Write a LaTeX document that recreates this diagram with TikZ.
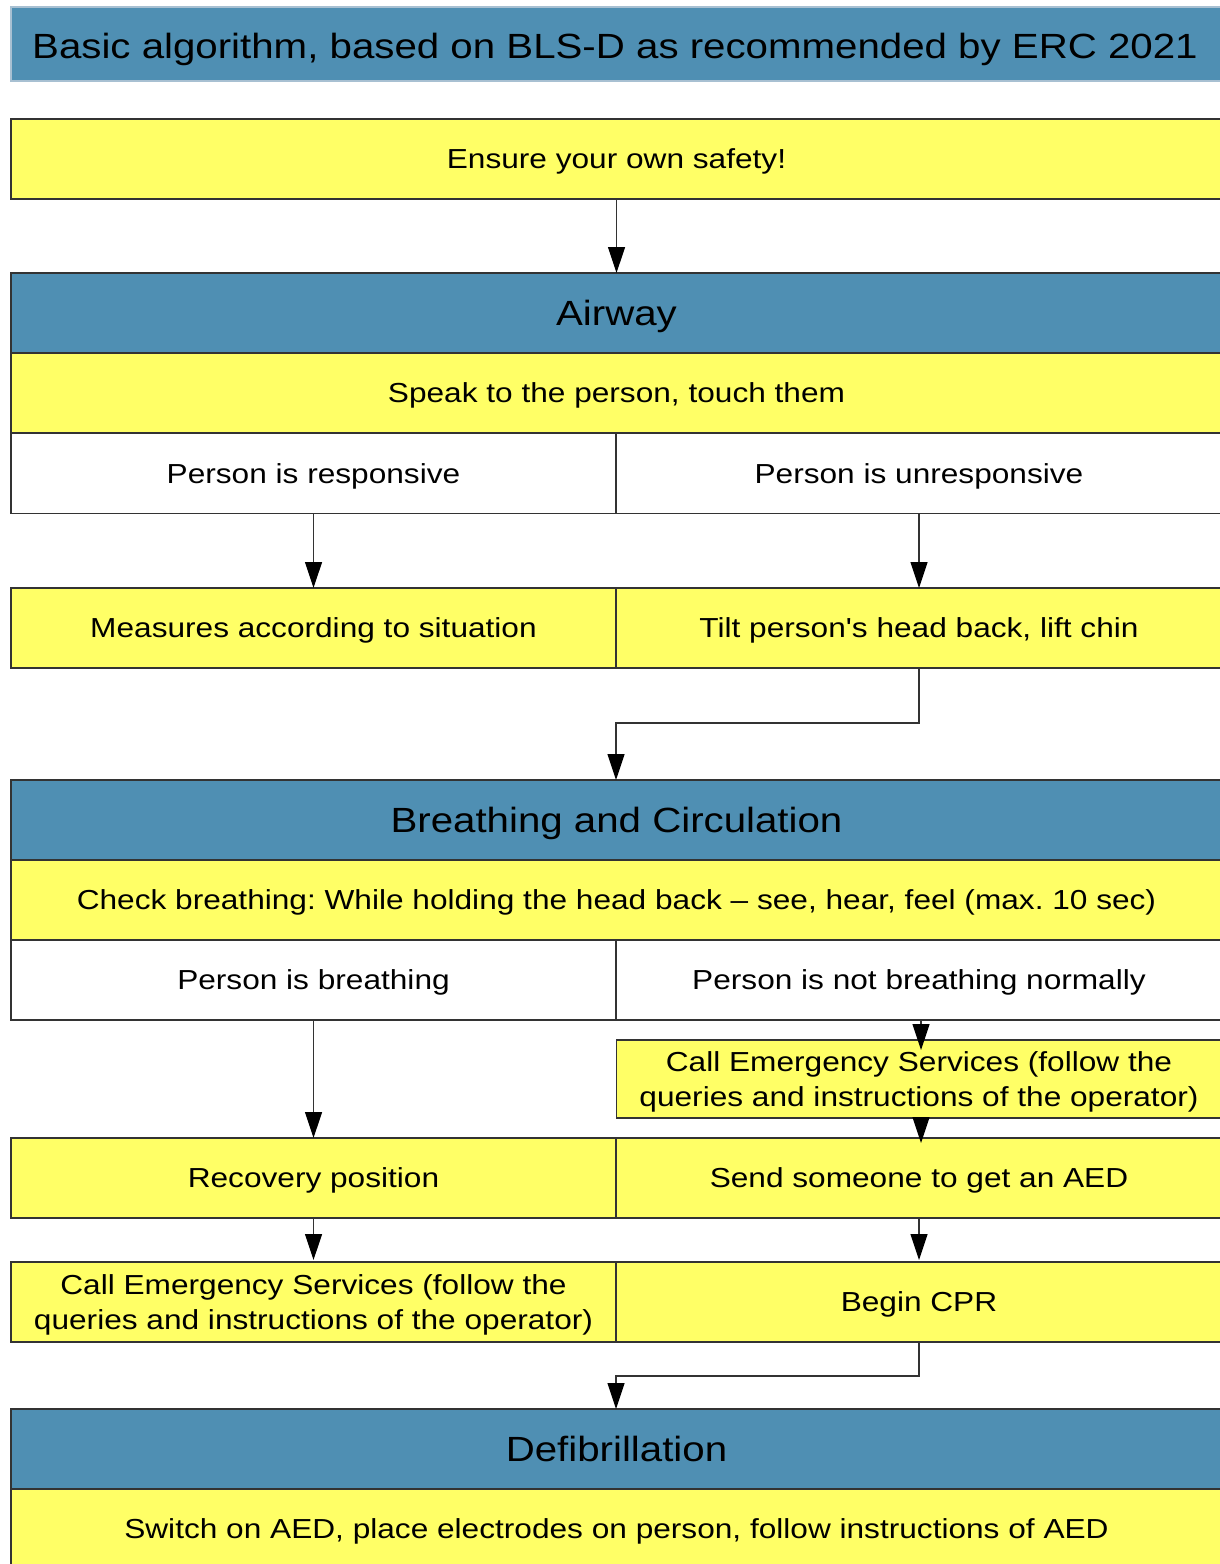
\documentclass[tikz,border=0pt]{standalone}
\usepackage{fontspec}
\setmainfont[FakeStretch=1.15, Ligatures=TeXOff]{Liberation Sans}
\usetikzlibrary{arrows.meta}
\definecolor{hdrblue}{HTML}{4F8FB3}
\definecolor{boxyellow}{HTML}{FFFF66}
\definecolor{edgegray}{HTML}{333333}
\definecolor{titleedge}{HTML}{A8C0D2}
\tikzset{
  base/.style={draw=edgegray, line width=1.2pt, inner sep=0pt, outer sep=0pt, align=center, text=black, text depth=0pt},
  fullw/.style={minimum width=1211pt},
  halfw/.style={minimum width=605pt},
  yel/.style={base, fill=boxyellow, minimum height=80pt, font=\fontsize{27.5}{35}\selectfont},
  wht/.style={base, fill=white, minimum height=80pt, font=\fontsize{27.5}{35}\selectfont},
  hdr/.style={base, fill=hdrblue, minimum height=80pt, font=\fontsize{35}{40}\selectfont},
  conn/.style={draw=edgegray, line width=1.2pt, -{Triangle[length=26pt,width=17pt,color=black]}},
}
\frenchspacing
\begin{document}
\frenchspacing
\begin{tikzpicture}[x=1pt,y=-1pt]
\useasboundingbox (0,0) rectangle (1220,1564);
\fill[white] (0,0) rectangle (1220,1564);
% title
\node[base, draw=titleedge, fill=hdrblue, fullw, minimum height=74pt] (title) at (616.5,44) {};
\node[text=black, font=\fontsize{35}{40}\selectfont, inner sep=0pt, text depth=0pt] (titletext) at (615,46) {Basic algorithm, based on BLS-D as recommended by ERC 2021};
% boxes
\node[yel, fullw] (ensure) at (616.5,159) {Ensure your own safety!};
\node[hdr, fullw] (airway) at (616.5,313) {Airway};
\node[yel, fullw] (speak) at (616.5,393) {Speak to the person, touch them};
\node[wht, halfw] (resp) at (313.5,473.5) {Person is responsive};
\node[wht, halfw] (unresp) at (919,473.5) {Person is unresponsive};
\node[yel, halfw] (measures) at (313.5,628) {Measures according to situation};
\node[yel, halfw] (tilt) at (919,628) {Tilt person's head back, lift chin};
\node[hdr, fullw] (bc) at (616.5,820) {Breathing and Circulation};
\node[yel, fullw] (check) at (616.5,900) {Check breathing: While holding the head back – see, hear, feel (max. 10 sec)};
\node[wht, halfw] (breath) at (313.5,980) {Person is breathing};
\node[wht, halfw] (nobreath) at (919,980) {Person is not breathing normally};
\node[yel, halfw, minimum height=78pt] (callr) at (919,1079) {Call Emergency Services (follow the\\queries and instructions of the operator)};
\node[yel, halfw] (recov) at (313.5,1178) {Recovery position};
\node[yel, halfw] (send) at (919,1178) {Send someone to get an AED};
\node[yel, halfw] (calll) at (313.5,1302) {Call Emergency Services (follow the\\queries and instructions of the operator)};
\node[yel, halfw] (cpr) at (919,1302) {Begin CPR};
\node[hdr, fullw] (defib) at (616.5,1449) {Defibrillation};
\node[yel, fullw] (aed) at (616.5,1529) {Switch on AED, place electrodes on person, follow instructions of AED};
% connectors
\coordinate (t1) at (919,723);
\coordinate (t2) at (616,723);
\coordinate (c1) at (919,1376);
\coordinate (c2) at (616,1376);
\draw[conn] (ensure.south) -- (airway.north);
\draw[conn] (resp.south) -- (measures.north);
\draw[conn] (unresp.south) -- (tilt.north);
\draw[conn] (tilt.south) -- (t1) -- (t2) -- (t2 |- bc.north);
\draw[conn] (breath.south) -- (recov.north);
\draw[conn, shorten >=-10pt] ([xshift=2pt]nobreath.south) -- ([xshift=2pt]callr.north);
\draw[conn, shorten >=-5pt] ([xshift=2pt]callr.south) -- ([xshift=2pt]send.north);
\draw[conn, shorten >=2pt] (send.south) -- (cpr.north);
\draw[conn, shorten >=2pt] (recov.south) -- (calll.north);
\draw[conn] (cpr.south) -- (c1) -- (c2) -- (c2 |- defib.north);
\end{tikzpicture}
\end{document}
